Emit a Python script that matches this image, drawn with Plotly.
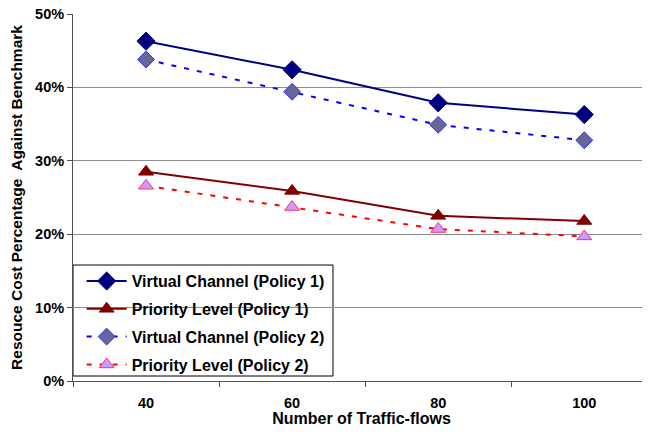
import plotly.graph_objects as go

categories = ["40", "60", "80", "100"]
vc_policy1 = [46.3, 42.4, 37.9, 36.3]
pl_policy1 = [28.5, 25.9, 22.5, 21.8]
vc_policy2 = [43.8, 39.4, 34.9, 32.8]
pl_policy2 = [26.6, 23.7, 20.7, 19.7]
y_ticks = [0, 10, 20, 30, 40, 50]
y_tick_labels = ["0%", "10%", "20%", "30%", "40%", "50%"]

FONT = "Liberation Sans, Arial, sans-serif"

fig = go.Figure()
fig.add_trace(go.Scatter(
    x=categories, y=vc_policy1, name="Virtual Channel (Policy 1)", legendgroup="a",
    mode="lines+markers",
    line=dict(color="#000080", width=2),
    marker=dict(symbol="diamond", size=14, color="#000080", line=dict(color="#000080", width=1)),
))
fig.add_trace(go.Scatter(
    x=categories, y=pl_policy1, name="Priority Level (Policy 1)", legendgroup="b",
    mode="lines+markers",
    line=dict(color="#800000", width=2),
    marker=dict(symbol="triangle-up", size=13, color="#800000", line=dict(color="#800000", width=1)),
))
fig.add_trace(go.Scatter(
    x=categories, y=vc_policy2, name="Virtual Channel (Policy 2)", legendgroup="c",
    mode="lines+markers",
    line=dict(color="#0000ff", width=2, dash="5px,8px"),
    marker=dict(symbol="diamond", size=13, color="#666699", line=dict(color="#3333ff", width=1)),
))
fig.add_trace(go.Scatter(
    x=categories, y=pl_policy2, name="Priority Level (Policy 2)", legendgroup="d",
    mode="lines+markers",
    line=dict(color="#ff0000", width=2, dash="5px,8px"),
    marker=dict(symbol="triangle-up", size=13, color="#cc99ff", line=dict(color="#ff3366", width=1)),
))

# legend frame (white box hiding the gridline behind the legend)
fig.add_shape(
    type="rect", xref="paper", yref="paper",
    x0=0.0, x1=0.4506, y0=0.0136, y1=0.316,
    fillcolor="white", line=dict(color="black", width=1), layer="between",
)

fig.update_layout(
    width=642, height=419,
    margin=dict(l=65, r=0, t=6, b=46),
    paper_bgcolor="white", plot_bgcolor="white",
    font=dict(family=FONT, size=14, color="black"),
    showlegend=True,
    legend=dict(
        x=0.015, y=0.3185, xanchor="left", yanchor="top",
        bgcolor="rgba(0,0,0,0)", borderwidth=0,
        font=dict(family=FONT, size=16, color="black", weight="bold"),
        tracegroupgap=4,
        itemwidth=40,
    ),
    xaxis=dict(
        type="category", range=[-0.5, 3.45],
        showgrid=False, showline=True, linecolor="#505050", linewidth=1,
        ticks="outside", ticklen=5, tickcolor="#505050", tickson="boundaries",
        tickfont=dict(family=FONT, size=14.5, weight="bold"),
        ticklabelstandoff=9,
        title=dict(text="Number of Traffic-flows", font=dict(family=FONT, size=16, weight="bold"), standoff=9),
        automargin=False,
    ),
    yaxis=dict(
        range=[0, 50], tickvals=y_ticks, ticktext=y_tick_labels,
        showgrid=True, gridcolor="#8c8c8c", gridwidth=1,
        showline=True, linecolor="#505050", linewidth=1,
        ticks="outside", ticklen=5, tickcolor="#505050",
        tickfont=dict(family=FONT, size=14.5, weight="bold"),
        ticklabeloverflow="allow",
        title=dict(text="Resouce Cost Percentage  Against Benchmark", font=dict(family=FONT, size=15.5, weight="bold"), standoff=8),
        automargin=False, zeroline=False,
    ),
)

fig.write_html("out.html")
